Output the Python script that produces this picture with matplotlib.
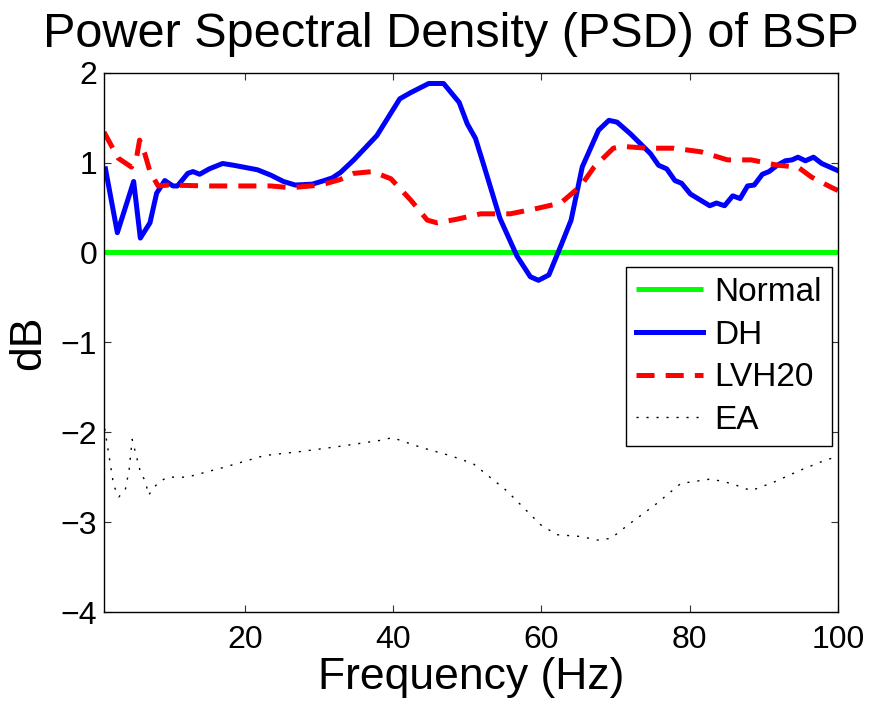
import matplotlib
matplotlib.use("Agg")
import matplotlib.pyplot as plt

plt.rcParams['font.family'] = ['Liberation Sans', 'DejaVu Sans']
plt.rcParams['lines.scale_dashes'] = False

# ---- data ----
normal_f = [1, 100]
normal_db = [0, 0]

dh_f = [1.2, 2.8, 5.0, 5.9, 7.2, 8.1, 9.2, 10.3, 10.9, 12.3, 13.0, 13.9, 15.2, 17.0,
        18.5, 21.7, 23.5, 25.2, 26.8, 29.1, 30.7, 31.8, 32.9, 34.7, 37.8, 40.9, 42.4,
        44.8, 46.8, 48.9, 50.0, 51.1, 52.3, 54.4, 56.7, 58.5, 59.6, 61.0, 62.6, 64.0,
        65.5, 67.7, 69.1, 70.2, 72.0, 74.7, 75.8, 76.9, 78.0, 78.9, 80.1, 82.7, 83.6,
        84.7, 85.8, 86.8, 87.8, 88.7, 89.8, 90.7, 91.8, 92.9, 93.8, 94.6, 95.6, 96.7,
        97.8, 100.0]
dh_db = [0.93, 0.22, 0.79, 0.16, 0.33, 0.66, 0.80, 0.74, 0.74, 0.88, 0.90, 0.87, 0.93, 0.99,
         0.97, 0.92, 0.86, 0.79, 0.75, 0.76, 0.80, 0.83, 0.89, 1.03, 1.30, 1.71, 1.78,
         1.88, 1.88, 1.67, 1.43, 1.27, 0.95, 0.38, -0.04, -0.27, -0.31, -0.25, 0.07, 0.36,
         0.95, 1.36, 1.47, 1.45, 1.32, 1.10, 0.97, 0.93, 0.80, 0.77, 0.65, 0.52, 0.55,
         0.52, 0.63, 0.60, 0.74, 0.75, 0.87, 0.90, 0.97, 1.02, 1.03, 1.06, 1.02, 1.06,
         0.99, 0.91]

lvh_f = [1.0, 2.9, 4.7, 5.4, 5.8, 6.5, 7.2, 8.3, 9.7, 15.0, 20.0, 23.5, 26.2, 30.2,
         32.8, 34.7, 37.2, 39.7, 42.4, 44.6, 45.9, 48.6, 51.8, 54.1, 55.8, 59.4, 62.6,
         65.3, 67.1, 69.7, 70.9, 74.3, 77.9, 81.5, 85.1, 88.3, 91.9, 94.6, 96.4, 99.2, 100.0]
lvh_db = [1.34, 1.05, 0.95, 1.06, 1.25, 1.10, 0.90, 0.74, 0.75, 0.74, 0.74, 0.74, 0.72, 0.75,
          0.81, 0.88, 0.90, 0.82, 0.58, 0.36, 0.33, 0.37, 0.43, 0.43, 0.43, 0.49, 0.55,
          0.74, 0.95, 1.16, 1.18, 1.16, 1.16, 1.12, 1.03, 1.03, 0.97, 0.95, 0.84, 0.72, 0.69]

ea_f = [1.1, 2.3, 3.0, 3.9, 4.4, 4.8, 5.9, 6.6, 7.0, 8.2, 9.5, 12.2, 17.2, 22.6, 28.0,
        33.4, 38.3, 39.9, 43.8, 47.7, 50.8, 55.3, 59.9, 62.1, 65.3, 67.6, 69.4, 71.7,
        75.3, 78.8, 82.9, 85.6, 88.3, 91.5, 94.7, 98.3, 100.0]
ea_db = [-1.96, -2.59, -2.72, -2.63, -2.41, -2.08, -2.44, -2.55, -2.70, -2.57, -2.50, -2.50,
         -2.39, -2.26, -2.21, -2.15, -2.09, -2.06, -2.17, -2.26, -2.35, -2.65, -3.03, -3.14,
         -3.16, -3.20, -3.18, -3.03, -2.81, -2.57, -2.52, -2.57, -2.65, -2.55, -2.43, -2.31,
         -2.27]

labels = ["Normal", "DH", "LVH20", "EA"]
x_ticks = [20, 40, 60, 80, 100]
y_ticks = [-4, -3, -2, -1, 0, 1, 2]

# ---- figure ----
fig = plt.figure(figsize=(8.70, 7.04), dpi=100)
ax = fig.add_axes([104/870, 1 - 612/704, (838-104)/870, (612-72.7)/704])

ax.plot(normal_f, normal_db, color='#00ff00', lw=3.6, label=labels[0], solid_capstyle='butt')
ax.plot(dh_f, dh_db, color='#0000ff', lw=3.6, label=labels[1])
ax.plot(lvh_f, lvh_db, color='#ff0000', lw=3.6, label=labels[2],
        dashes=(13, 8), dash_capstyle='butt')
ax.plot(ea_f, ea_db, color='black', lw=1.0, label=labels[3], dashes=(1.5, 5.7))

ax.set_xlim(1, 100)
ax.set_ylim(-4, 2)
ax.set_xticks(x_ticks)
ax.set_yticks(y_ticks)
ax.tick_params(direction='in', length=5, width=0.8, top=True, right=True,
               labelsize=23, color='#333333')
ax.tick_params(axis='x', pad=9)
ax.tick_params(axis='y', pad=5)
for s in ax.spines.values():
    s.set_linewidth(1.0)

ax.set_xlabel("Frequency (Hz)", fontsize=32, labelpad=2)
ax.set_ylabel("dB", fontsize=32, labelpad=8)

fig.text(43/870, 1 - 47/704, "Power Spectral Density (PSD) of BSP",
         fontsize=35, ha='left', va='baseline')

leg = ax.legend(loc='upper right', bbox_to_anchor=(0.992, 0.640), fontsize=24,
                frameon=True, fancybox=False, handlelength=2.0, handletextpad=0.35,
                labelspacing=0.35, borderpad=0.3, borderaxespad=0)
leg.get_frame().set_edgecolor('black')
leg.get_frame().set_linewidth(1.0)
leg.get_frame().set_alpha(1)

fig.savefig("out.png", dpi=100)
